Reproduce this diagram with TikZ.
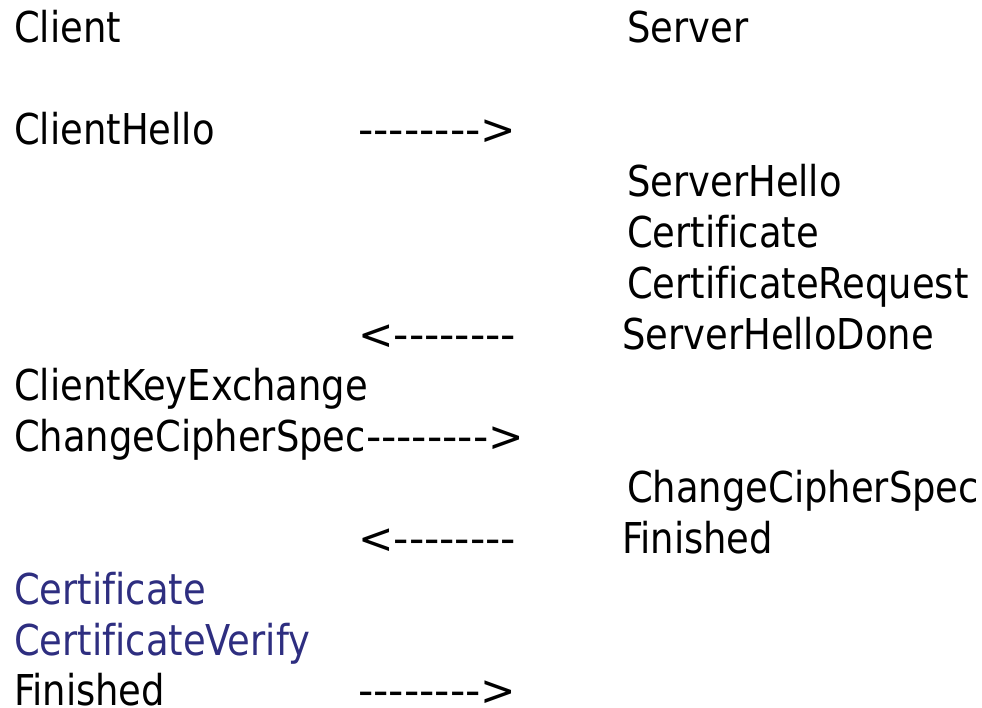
\documentclass[tikz,border=0pt]{standalone}
\usepackage{fontspec}
\usepackage{graphicx}
\newfontfamily\tahlike{DejaVu Sans Condensed}[Ligatures=NoCommon,FakeStretch=0.965]
\newcommand{\wdarr}[1]{\scalebox{1.148}[1]{#1}}
\definecolor{navyt}{HTML}{2E2E80}
\begin{document}
\begin{tikzpicture}[x=1pt,y=1pt,
  msg/.style={anchor=base west,inner sep=0pt,font=\tahlike\fontsize{42.5}{50}\selectfont},
  blue/.style={msg,text=navyt}]
\useasboundingbox (0,0) rectangle (982,708);
\node[msg] (client) at (14,665) {Client};
\node[msg] (server) at (627,665) {Server};
\node[msg] (ch) at (14,563) {ClientHello};
\node[msg] (a1) at (358,563) {\wdarr{-------->}};
\node[msg] (sh) at (627,511.9) {ServerHello};
\node[msg] (cert) at (627,460.8) {Certificate};
\node[msg] (creq) at (627,409.7) {CertificateRequest};
\node[msg] (a2) at (358,358.6) {\wdarr{<--------}};
\node[msg] (shd) at (622,358.6) {ServerHelloDone};
\node[msg] (cke) at (14,307.5) {ClientKeyExchange};
\node[msg] (ccs) at (14,256.4) {ChangeCipherSpec\wdarr{-------->}};
\node[msg] (sccs) at (627,205.3) {ChangeCipherSpec};
\node[msg] (a3) at (358,154.2) {\wdarr{<--------}};
\node[msg] (sfin) at (622,154.2) {Finished};
\node[blue] (ccert) at (14,103.1) {Certificate};
\node[blue] (cver) at (14,52) {CertificateVerify};
\node[msg] (cfin) at (14,2) {Finished};
\node[msg] (a4) at (358,2) {\wdarr{-------->}};
\end{tikzpicture}
\end{document}
